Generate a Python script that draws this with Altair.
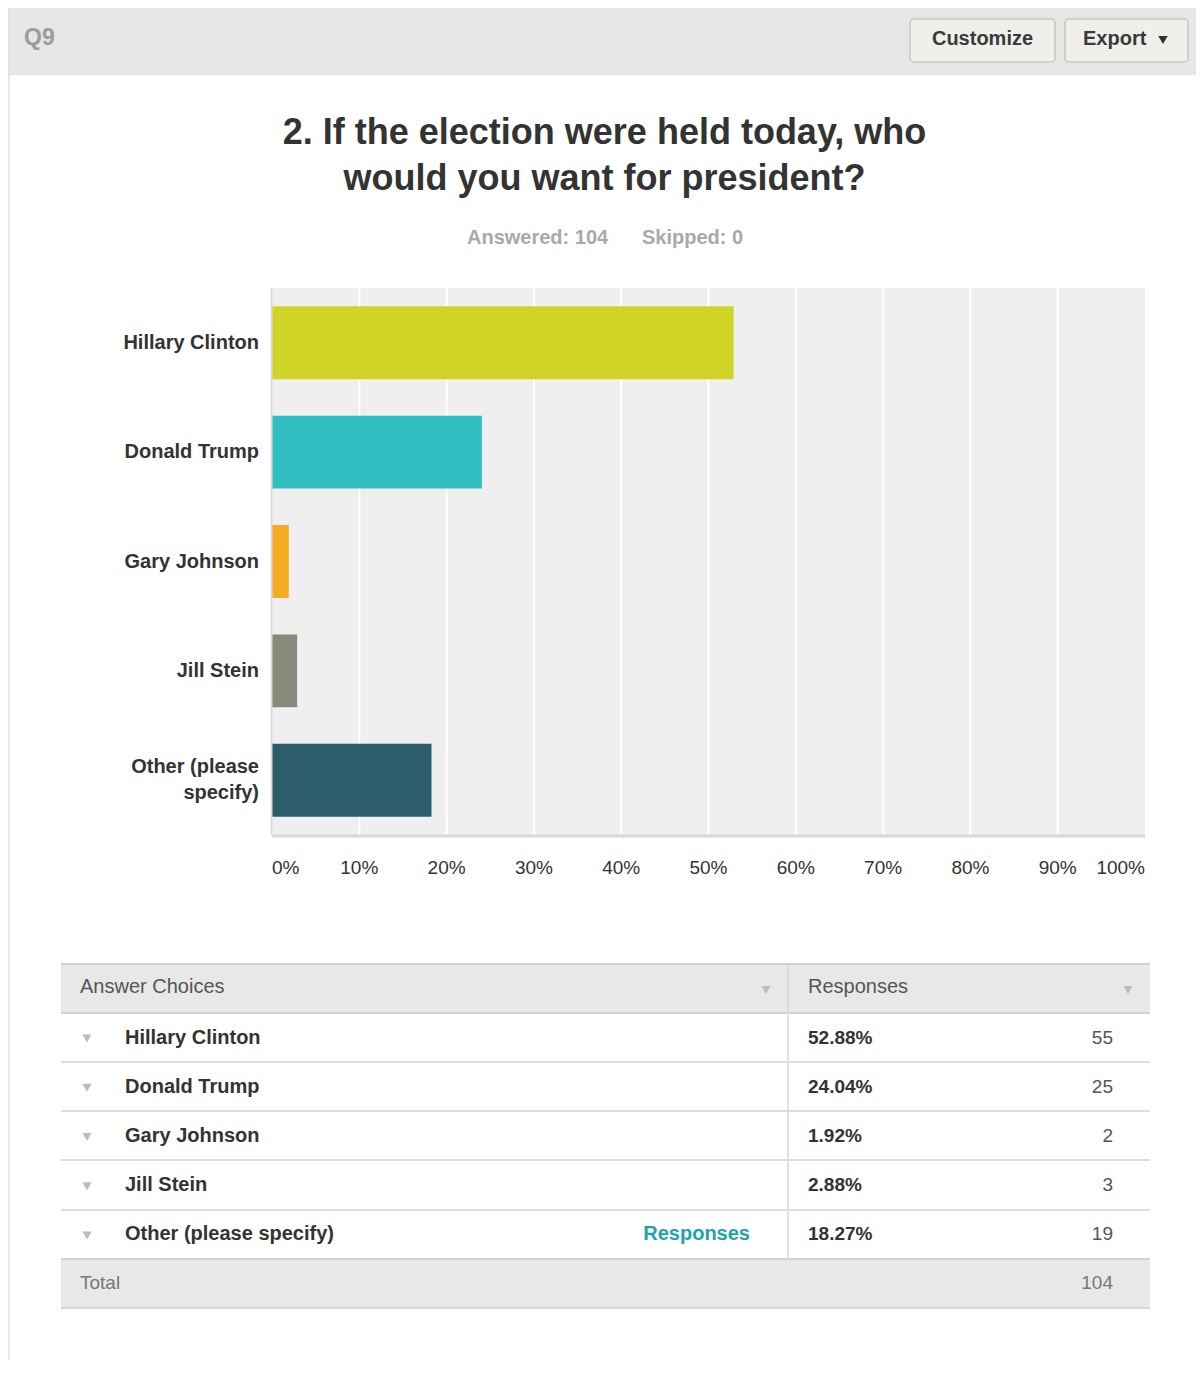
import altair as alt
import pandas as pd

# ---------------- data ----------------
names = ["Hillary Clinton", "Donald Trump", "Gary Johnson", "Jill Stein", "Other (please specify)"]
chart_labels = ["Hillary Clinton", "Donald Trump", "Gary Johnson", "Jill Stein", "Other (please\nspecify)"]
pcts = [52.88, 24.04, 1.92, 2.88, 18.27]
counts = [55, 25, 2, 3, 19]
bar_colors = ["#cfd426", "#32bdc0", "#f6ac20", "#88897a", "#2d5d6b"]
x_ticks = [0, 10, 20, 30, 40, 50, 60, 70, 80, 90, 100]
x_tick_labels = ["0%", "10%", "20%", "30%", "40%", "50%", "60%", "70%", "80%", "90%", "100%"]
grid_ticks = [10, 20, 30, 40, 50, 60, 70, 80, 90]
answered = 104
skipped = 0
total = 104
question_id = "Q9"
title_lines = ["2. If the election were held today, who", "would you want for president?"]

W, H = 1188, 1352
FONT = "Liberation Sans"

df = pd.DataFrame({
    "name": names,
    "label": chart_labels,
    "pct": pcts,
    "count": counts,
    "pct_text": [f"{p:.2f}%" for p in pcts],
})
ticks_df = pd.DataFrame({"t": x_ticks, "lab": x_tick_labels})
grid_df = pd.DataFrame({"t": grid_ticks})
one = pd.DataFrame({"a": [0]})
span_df = pd.DataFrame({"lo": [0], "hi": [100]})

# plot area (chart coords)
X0, X1 = 264, 1137
PY0, PY1 = 280, 827
xscale = alt.Scale(domain=[0, 100], range=[X0, X1])
band = alt.Scale(type="band", domain=names, range=[PY0, PY1], paddingInner=0.333, paddingOuter=0.1667)
pts = alt.Scale(type="point", domain=names, range=[PY0, PY1], padding=0.5)
TY0, TY1 = 1005, 1251
rows = alt.Scale(type="point", domain=names, range=[TY0, TY1], padding=0.5)
TX0, TX1 = 53, 1142


def txt(text, x, y, size=20, weight="normal", color="#333333", align="left"):
    return alt.Chart(one).mark_text(
        text=text, font=FONT, fontSize=size, fontWeight=weight, color=color,
        align=align, baseline="middle"
    ).encode(x=alt.value(x), y=alt.value(y))


def box(x0, x1, y0, y1, fill, stroke=None, sw=0, r=0):
    kw = dict(fill=fill, cornerRadius=r)
    if stroke:
        kw.update(stroke=stroke, strokeWidth=sw)
    return alt.Chart(one).mark_rect(**kw).encode(
        x=alt.value(x0), x2=alt.value(x1), y=alt.value(y0), y2=alt.value(y1))


def hline(y, x0, x1, color, w=1):
    return alt.Chart(one).mark_rule(color=color, strokeWidth=w).encode(
        x=alt.value(x0), x2=alt.value(x1), y=alt.value(y))


def vline(x, y0, y1, color, w=1):
    return alt.Chart(one).mark_rule(color=color, strokeWidth=w).encode(
        x=alt.value(x), y=alt.value(y0), y2=alt.value(y1))


layers = []

# ---------- header ----------
layers.append(box(0, W, 0, 67, "#e6e6e4"))
layers.append(vline(0.5, 0, H, "#e2e2e2", 2))
layers.append(txt(question_id, 16, 30, size=23, weight="bold", color="#9c9c9c"))
layers.append(box(902, 1047, 11, 54, "#efefeb", "#c6c6c2", 1.5, 4))
layers.append(box(1057, 1180, 11, 54, "#efefeb", "#c6c6c2", 1.5, 4))
layers.append(txt("Customize", 974.5, 31, size=20, weight="bold", color="#3a3a3a", align="center"))
layers.append(txt("Export", 1075, 31, size=20, weight="bold", color="#3a3a3a"))
layers.append(alt.Chart(one).mark_point(shape="triangle-down", filled=True, size=90, color="#333333", opacity=1)
              .encode(x=alt.value(1155), y=alt.value(32)))

# ---------- title ----------
layers.append(txt(title_lines[0], 596.5, 125, size=36, weight="bold", color="#333333", align="center"))
layers.append(txt(title_lines[1], 596.5, 171, size=36, weight="bold", color="#333333", align="center"))
layers.append(txt(f"Answered: {answered}", 459, 230, size=20, weight="bold", color="#a9a9a9"))
layers.append(txt(f"Skipped: {skipped}", 634, 230, size=20, weight="bold", color="#a9a9a9"))

# ---------- bar chart ----------
layers.append(alt.Chart(span_df).mark_rect(fill="#efefef").encode(
    x=alt.X("lo:Q", scale=xscale, axis=None), x2="hi:Q",
    y=alt.value(PY0), y2=alt.value(PY1)))
layers.append(alt.Chart(grid_df).mark_rule(color="#ffffff", strokeWidth=2).encode(
    x=alt.X("t:Q", scale=xscale, axis=None), y=alt.value(PY0), y2=alt.value(PY1)))
layers.append(alt.Chart(df).mark_bar().encode(
    x=alt.X("pct:Q", scale=xscale, axis=None),
    y=alt.Y("name:N", scale=band, axis=None, sort=names),
    color=alt.Color("name:N", scale=alt.Scale(domain=names, range=bar_colors), legend=None),
))
layers.append(alt.Chart(span_df).mark_rule(color="#d9d9d9", strokeWidth=3).encode(
    x=alt.X("lo:Q", scale=xscale, axis=None), x2="hi:Q", y=alt.value(PY1 + 1)))
layers.append(vline(X0 - 0.5, PY0, PY1, "#dddddd", 2))

# category labels: single-line ones centred, the wrapped one centred as a block
layers.append(alt.Chart(df).transform_filter("indexof(datum.label, '\\n') < 0").mark_text(
    font=FONT, fontSize=20, fontWeight="bold", color="#333333", align="right",
    baseline="middle"
).encode(x=alt.value(251), y=alt.Y("name:N", scale=pts, axis=None), text="label:N"))
layers.append(alt.Chart(df).transform_filter("indexof(datum.label, '\\n') >= 0").mark_text(
    font=FONT, fontSize=20, fontWeight="bold", color="#333333", align="right",
    baseline="middle", lineBreak="\n", lineHeight=26, dy=-13
).encode(x=alt.value(251), y=alt.Y("name:N", scale=pts, axis=None), text="label:N"))

for cond, al in [("datum.t == 0", "left"), ("datum.t > 0 && datum.t < 100", "center"), ("datum.t == 100", "right")]:
    layers.append(alt.Chart(ticks_df).transform_filter(cond).mark_text(
        font=FONT, fontSize=19, color="#333333", align=al, baseline="middle"
    ).encode(x=alt.X("t:Q", scale=xscale, axis=None), y=alt.value(860), text="lab:N"))

# ---------- table ----------
layers.append(box(TX0, TX1, 956, TY0, "#e8e8e6"))
layers.append(box(TX0, TX1, TY1, 1300, "#e8e8e6"))
layers.append(hline(956, TX0, TX1, "#d2d2d2", 2))
layers.append(hline(TY0, TX0, TX1, "#d2d2d2", 2))
for yy in [1054, 1103, 1152, 1202]:
    layers.append(hline(yy, TX0, TX1, "#dedede", 2))
layers.append(hline(TY1, TX0, TX1, "#d2d2d2", 2))
layers.append(hline(1300, TX0, TX1, "#d6d6d6", 2))
layers.append(vline(780, 956, TY1, "#d8d8d8", 1.5))
layers.append(txt("Answer Choices", 72, 979, size=20, color="#555555"))
layers.append(txt("Responses", 800, 979, size=20, color="#555555"))
for xx in [758, 1120]:
    layers.append(alt.Chart(one).mark_point(shape="triangle-down", filled=True, size=85, color="#bcbcbc", opacity=1)
                  .encode(x=alt.value(xx), y=alt.value(982)))

layers.append(alt.Chart(df).mark_point(shape="triangle-down", filled=True, size=85, color="#bcbcbc", opacity=1, yOffset=1)
              .encode(x=alt.value(79), y=alt.Y("name:N", scale=rows, axis=None)))
layers.append(alt.Chart(df).mark_text(font=FONT, fontSize=20, fontWeight="bold", color="#333333",
                                      align="left", baseline="middle")
              .encode(x=alt.value(117), y=alt.Y("name:N", scale=rows, axis=None), text="name:N"))
layers.append(alt.Chart(df).mark_text(font=FONT, fontSize=19, fontWeight="bold", color="#333333",
                                      align="left", baseline="middle")
              .encode(x=alt.value(800), y=alt.Y("name:N", scale=rows, axis=None), text="pct_text:N"))
layers.append(alt.Chart(df).mark_text(font=FONT, fontSize=19, color="#555555",
                                      align="right", baseline="middle")
              .encode(x=alt.value(1105), y=alt.Y("name:N", scale=rows, axis=None), text="count:Q"))
layers.append(alt.Chart(df).transform_filter(alt.datum.name == names[-1]).mark_text(
    text="Responses", font=FONT, fontSize=20, fontWeight="bold", color="#1fa4a7",
    align="right", baseline="middle"
).encode(x=alt.value(742), y=alt.Y("name:N", scale=rows, axis=None)))
layers.append(txt("Total", 72, 1275, size=19, color="#777777"))
layers.append(txt(str(total), 1105, 1275, size=19, color="#777777", align="right"))

chart = alt.layer(*layers).resolve_scale(
    x="independent", y="independent", color="independent"
).properties(
    width=W, height=H, padding=0,
    autosize=alt.AutoSizeParams(type="none"),
).configure_view(stroke=None)

chart.save("out.html", embed_options={"renderer": "svg", "actions": False})
